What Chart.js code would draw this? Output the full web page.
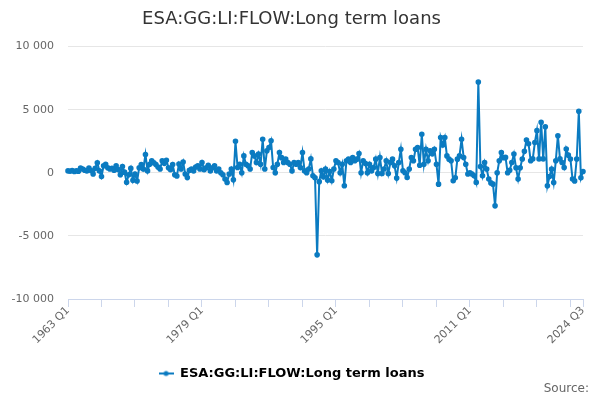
<!DOCTYPE html>
<html>
<head>
<meta charset="utf-8">
<script src="https://cdn.jsdelivr.net/npm/chart.js@4.4.1/dist/chart.umd.min.js"></script>
<style>
  html, body { margin: 0; padding: 0; background: #fff; }
  #chart { display: block; }
</style>
</head>
<body>
<canvas id="chart" width="600" height="400"></canvas>
<script>
// data, one value per quarter from 1963 Q1 to 2024 Q3
var startYear = 1963;
var seriesName = 'ESA:GG:LI:FLOW:Long term loans';
var values = [
    150, 120, 180, 100,   150, 130, 380, 300,   200, 150, 380, 180,   -100, 350, 800, 150,
    -300, 550, 680, 400,   300, 350, 200, 550,   250, -150, 500, 50,   -750, -150, 350, -600,
    -100, -650, 400, 650,   300, 1450, 150, 680,   950, 800, 650, 450,   300, 950, 750, 1000,
    400, 250, 650, -150,   -250, 700, 300, 850,   -100, -380, 200, 300,   150, 450, 550, 300,
    820, 250, 400, 600,   150, 400, 550, 150,   300, 0, -150, -500,   -770, -100, 300, -550,
    2500, 420, 680, 0,   1340, 680, 550, 300,   1600, 1340, 820, 1480,   680, 2660, 300, 1740,
    2000, 2530, 420, 0,   680, 1600, 1200, 820,   1080, 820, 680, 150,   820, 680, 820, 420,
    1600, 150, 0, 300,   1100, -240, -400, -6500,   -700, 160, -320, 300,   -580, 100, -630, 300,
    950, 820, 0, 680,   -1030, 950, 1080, 820,   1210, 950, 1080, 1530,   0, 950, 750, 0,
    680, 150, 420, 1080,   -50, 1210, -50, 300,   950, -50, 820, 1080,   550, -420, 820, 1870,
    160, 0, -370, 300,   1210, 950, 1870, 2000,   600, 3050, 680, 1870,   950, 1740, 1500, 1870,
    680, -900, 2790, 2200,   2790, 1340, 1080, 950,   -630, -400, 1080, 1340,   2660, 1210, 680, -100,
    0, -100, -240, -760,   7200, 500, -240, 820,   300, -500, -800, -900,   -2620, 0, 950, 1600,
    1200, 1220, 0, 200,   820, 1480, 400, -500,   400, 1090, 1700, 2600,   2300, 950, 1100, 2400,
    3340, 1100, 4000, 1100,   3650, -1030, -300, 290,   -770, 950, 2940, 1100,   820, 420, 1880, 1400,
    1090, -500, -640, 1090,   4880, -400, 100
];
var xTickLabels = ['1963 Q1', '1979 Q1', '1995 Q1', '2011 Q1', '2024 Q3'];
var yTicks = [-10000, -5000, 0, 5000, 10000];

// quarter labels
var categories = [];
for (var i = 0; i < values.length; i++) {
    categories.push((startYear + Math.floor(i / 4)) + ' Q' + (i % 4 + 1));
}

var lineColor = '#0b7bc1';
var font = 'DejaVu Sans, Verdana, sans-serif';

function spaced(v) {
    var s = String(Math.abs(v)).replace(/\B(?=(\d{3})+(?!\d))/g, ' ');
    return (v < 0 ? '-' : '') + s;
}

// legend symbol: line with a dot
var legendIcon = document.createElement('canvas');
legendIcon.width = 15;
legendIcon.height = 10;
var ic = legendIcon.getContext('2d');
ic.strokeStyle = lineColor;
ic.lineWidth = 2;
ic.beginPath();
ic.moveTo(0, 5);
ic.lineTo(15, 5);
ic.stroke();
ic.fillStyle = lineColor;
ic.beginPath();
ic.arc(7.5, 5, 2.5, 0, Math.PI * 2);
ic.fill();

var sourcePlugin = {
    id: 'source',
    afterDraw: function (chart) {
        var ctx = chart.ctx;
        ctx.save();
        ctx.font = '12px ' + font;
        ctx.fillStyle = '#666';
        ctx.textAlign = 'right';
        ctx.textBaseline = 'middle';
        ctx.fillText('Source:', 589, 389);
        ctx.restore();
    }
};

new Chart(document.getElementById('chart'), {
    type: 'line',
    data: {
        labels: categories,
        datasets: [{
            label: seriesName,
            data: values,
            borderColor: lineColor,
            backgroundColor: lineColor,
            borderWidth: 2,
            pointRadius: 1.8,
            pointHoverRadius: 3,
            tension: 0
        }]
    },
    options: {
        responsive: false,
        animation: false,
        layout: { padding: { left: 0, right: 17, top: 0, bottom: 10 } },
        plugins: {
            title: {
                display: true,
                text: seriesName,
                color: '#333',
                font: { family: font, size: 18, weight: 'normal' },
                padding: { top: 9, bottom: 16 }
            },
            legend: {
                position: 'bottom',
                labels: {
                    color: '#333',
                    font: { family: font, size: 13, weight: 'bold' },
                    usePointStyle: true,
                    pointStyleWidth: 15,
                    padding: 8,
                    generateLabels: function (chart) {
                        return [{
                            text: seriesName,
                            pointStyle: legendIcon,
                            fillStyle: lineColor,
                            strokeStyle: lineColor,
                            lineWidth: 0,
                            datasetIndex: 0
                        }];
                    }
                }
            },
            tooltip: { enabled: false }
        },
        scales: {
            x: {
                type: 'category',
                offset: false,
                grid: {
                    display: true,
                    drawOnChartArea: false,
                    drawTicks: true,
                    tickLength: 8,
                    color: '#ccd6eb'
                },
                border: { display: true, color: '#ccd6eb', width: 1 },
                ticks: {
                    autoSkip: false,
                    maxRotation: 45,
                    minRotation: 45,
                    padding: -3,
                    color: '#666',
                    font: { family: font, size: 11 },
                    callback: function (val, idx) {
                        var lab = categories[idx];
                        if (xTickLabels.indexOf(lab) >= 0) return lab;
                        if (idx % 16 === 0) return '';
                        return null;
                    }
                },
                afterFit: function (scale) { scale.height = 60; }
            },
            y: {
                min: yTicks[0],
                max: yTicks[yTicks.length - 1],
                afterBuildTicks: function (scale) {
                    scale.ticks = yTicks.map(function (v) { return { value: v }; });
                },
                grid: { color: '#e6e6e6', drawTicks: false },
                border: { display: false },
                ticks: {
                    padding: 14,
                    color: '#666',
                    font: { family: font, size: 11 },
                    callback: function (v) { return spaced(v); }
                },
                afterFit: function (scale) { scale.width = 68; }
            }
        }
    },
    plugins: [sourcePlugin]
});
</script>
</body>
</html>
